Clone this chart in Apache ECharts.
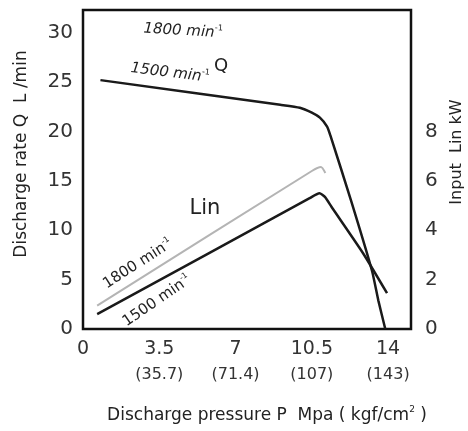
<!DOCTYPE html>
<html>
<head>
<meta charset="utf-8">
<script src="https://cdn.jsdelivr.net/npm/echarts@6/dist/echarts.min.js"></script>
<style>
html, body { margin: 0; padding: 0; background: #fff; }
#container { width: 468px; height: 431px; }
</style>
</head>
<body>
<div id="container"></div>
<script>
// discharge rate Q at 1500 min-1 (pressure MPa -> L/min)
var qPressure = [0.8, 9.05, 9.95, 10.5, 10.87, 11.2, 11.35, 12.3, 13.26, 13.55, 13.87];
var qRate = [25.2, 22.7, 22.4, 21.9, 21.4, 20.5, 19.6, 13.0, 5.9, 2.9, 0];

// input power Lin (kW)
var lin1500Pressure = [0.65, 10.4, 10.85, 11.1, 11.4, 12.85, 13.95];
var lin1500Kw = [0.6, 5.3, 5.5, 5.35, 4.95, 3.07, 1.45];
var lin1800Pressure = [0.65, 10.5, 10.92, 11.12];
var lin1800Kw = [0.95, 6.4, 6.56, 6.32];

// x tick labels: MPa and (kgf/cm2)
var xTicks = [0, 3.5, 7, 10.5, 14];
var xTicksKgf = ['', '(35.7)', '(71.4)', '(107)', '(143)'];

var FONT = 'DejaVu Sans';

function pairs(xs, ys) {
    var out = [];
    for (var i = 0; i < xs.length; i++) {
        out.push([xs[i], ys[i]]);
    }
    return out;
}

var dom = document.getElementById('container');
var myChart = echarts.init(dom, null, { renderer: 'canvas' });

var option = {
    backgroundColor: '#fff',
    animation: false,
    grid: {
        left: 83,
        right: 57,
        top: 10,
        bottom: 102,
        show: true,
        borderColor: '#111',
        borderWidth: 2.5,
        backgroundColor: 'transparent'
    },
    xAxis: {
        type: 'value',
        min: 0,
        max: 15.05,
        interval: 3.5,
        axisLine: { show: false },
        axisTick: { show: false },
        splitLine: { show: false },
        axisLabel: {
            margin: 7,
            color: '#333',
            formatter: function (v) {
                for (var i = 0; i < xTicks.length; i++) {
                    if (Math.abs(xTicks[i] - v) < 1e-6) {
                        if (xTicksKgf[i] === '') {
                            return '{a|' + xTicks[i] + '}';
                        }
                        return '{a|' + xTicks[i] + '}\n{b|' + xTicksKgf[i] + '}';
                    }
                }
                return '';
            },
            rich: {
                a: { fontFamily: FONT, fontSize: 19, lineHeight: 26, color: '#333' },
                b: { fontFamily: FONT, fontSize: 16, lineHeight: 26, color: '#333' }
            }
        }
    },
    yAxis: [
        {
            type: 'value',
            min: 0,
            max: 32.3,
            interval: 5,
            axisLine: { show: false },
            axisTick: { show: false },
            splitLine: { show: false },
            axisLabel: {
                margin: 10,
                fontFamily: FONT,
                fontSize: 20,
                color: '#333',
                formatter: function (v) {
                    return v % 5 === 0 ? v : '';
                }
            }
        },
        {
            type: 'value',
            min: 0,
            max: 12.92,
            interval: 2,
            position: 'right',
            axisLine: { show: false },
            axisTick: { show: false },
            splitLine: { show: false },
            axisLabel: {
                margin: 14,
                fontFamily: FONT,
                fontSize: 20,
                color: '#333',
                formatter: function (v) {
                    return (v <= 8 && v % 2 === 0) ? v : '';
                }
            }
        }
    ],
    series: [
        {
            name: 'Q 1500',
            type: 'line',
            yAxisIndex: 0,
            data: pairs(qPressure, qRate),
            symbol: 'none',
            smooth: 0.2,
            lineStyle: { color: '#1a1a1a', width: 2.5 }
        },
        {
            name: 'Lin 1800',
            type: 'line',
            yAxisIndex: 1,
            data: pairs(lin1800Pressure, lin1800Kw),
            symbol: 'none',
            smooth: 0.2,
            lineStyle: { color: '#b4b4b4', width: 2 }
        },
        {
            name: 'Lin 1500',
            type: 'line',
            yAxisIndex: 1,
            data: pairs(lin1500Pressure, lin1500Kw),
            symbol: 'none',
            smooth: 0.2,
            lineStyle: { color: '#1a1a1a', width: 2.5 }
        }
    ],
    graphic: [
        // axis titles
        {
            type: 'text', x: 22, y: 154, rotation: Math.PI / 2,
            style: {
                text: 'Discharge rate Q  L /min', fill: '#222',
                fontFamily: FONT, fontSize: 17, align: 'center', verticalAlign: 'middle'
            }
        },
        {
            type: 'text', x: 457, y: 152, rotation: Math.PI / 2,
            style: {
                text: 'Input  Lin kW', fill: '#222',
                fontFamily: FONT, fontSize: 16, align: 'center', verticalAlign: 'middle'
            }
        },
        {
            type: 'text', x: 267, y: 416,
            style: {
                text: '{t|Discharge pressure P  Mpa ( kgf/cm}{s|2}{t| )}', fill: '#222',
                align: 'center', verticalAlign: 'middle',
                rich: {
                    t: { fontFamily: FONT, fontSize: 17, lineHeight: 22, fill: '#222' },
                    s: { fontFamily: FONT, fontSize: 9, lineHeight: 22, verticalAlign: 'top', fill: '#222' }
                }
            }
        },
        // curve annotations
        {
            type: 'text', x: 183, y: 31, rotation: -0.06,
            style: {
                text: '{t|1800}{m| min}{s|-1}',
                align: 'center', verticalAlign: 'middle',
                rich: {
                    t: { fontFamily: FONT, fontStyle: 'italic', fontSize: 15, lineHeight: 18, fill: '#222' },
                    m: { fontFamily: FONT, fontStyle: 'italic', fontSize: 15, lineHeight: 18, fill: '#222' },
                    s: { fontFamily: FONT, fontSize: 8, lineHeight: 18, verticalAlign: 'top', fill: '#222' }
                }
            }
        },
        {
            type: 'text', x: 170, y: 73, rotation: -0.12,
            style: {
                text: '{t|1500}{m| min}{s|-1}',
                align: 'center', verticalAlign: 'middle',
                rich: {
                    t: { fontFamily: FONT, fontStyle: 'italic', fontSize: 15, lineHeight: 18, fill: '#222' },
                    m: { fontFamily: FONT, fontStyle: 'italic', fontSize: 15, lineHeight: 18, fill: '#222' },
                    s: { fontFamily: FONT, fontSize: 8, lineHeight: 18, verticalAlign: 'top', fill: '#222' }
                }
            }
        },
        {
            type: 'text', x: 221, y: 66,
            style: {
                text: 'Q', fill: '#222',
                fontFamily: FONT, fontSize: 18, align: 'center', verticalAlign: 'middle'
            }
        },
        {
            type: 'text', x: 205, y: 209,
            style: {
                text: 'Lin', fill: '#222',
                fontFamily: FONT, fontSize: 21, align: 'center', verticalAlign: 'middle'
            }
        },
        {
            type: 'text', x: 138, y: 264, rotation: 0.57,
            style: {
                text: '{t|1800}{m| min}{s|-1}',
                align: 'center', verticalAlign: 'middle',
                rich: {
                    t: { fontFamily: FONT, fontSize: 15, lineHeight: 18, fill: '#222' },
                    m: { fontFamily: FONT, fontSize: 15, lineHeight: 18, fill: '#222' },
                    s: { fontFamily: FONT, fontSize: 8, lineHeight: 18, verticalAlign: 'top', fill: '#222' }
                }
            }
        },
        {
            type: 'text', x: 157, y: 301, rotation: 0.6,
            style: {
                text: '{t|1500}{m| min}{s|-1}',
                align: 'center', verticalAlign: 'middle',
                rich: {
                    t: { fontFamily: FONT, fontSize: 15, lineHeight: 18, fill: '#222' },
                    m: { fontFamily: FONT, fontSize: 15, lineHeight: 18, fill: '#222' },
                    s: { fontFamily: FONT, fontSize: 8, lineHeight: 18, verticalAlign: 'top', fill: '#222' }
                }
            }
        }
    ]
};

if (option && typeof option === 'object') {
    myChart.setOption(option, false);
}
</script>
</body>
</html>
